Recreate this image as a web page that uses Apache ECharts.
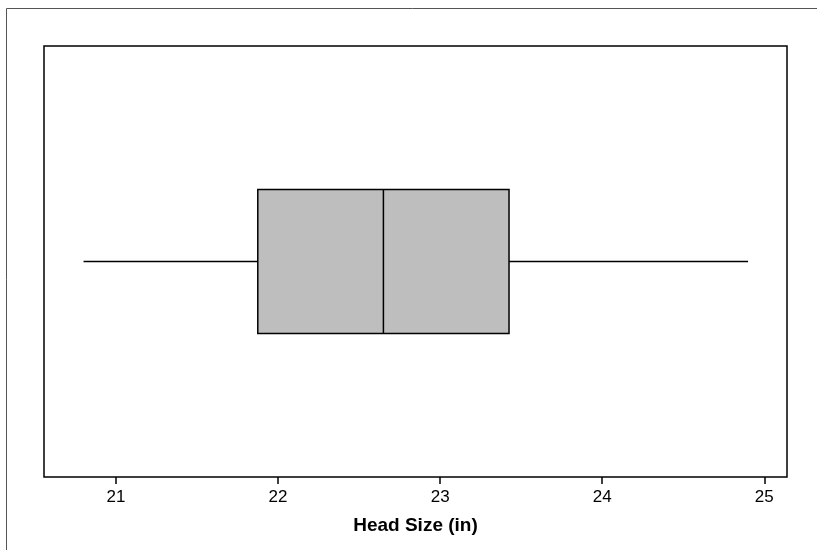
<!DOCTYPE html>
<html>
<head>
<meta charset="utf-8">
<script src="https://cdn.jsdelivr.net/npm/echarts@6/dist/echarts.min.js"></script>
<style>
  html, body { margin: 0; padding: 0; background: #fff; }
  #chart { width: 817px; height: 550px; }
</style>
</head>
<body>
<div id="chart"></div>
<script>
// five-number summary
var categories = ['Head Size'];
var summary = [[20.8, 21.875, 22.65, 23.425, 24.9]];
var tickValues = [21, 22, 23, 24, 25];
var axisTitle = 'Head Size (in)';

var boxData = summary.map(function(s, i) {
  return s.concat([i]);
});

function renderBox(params, api) {
  var cat = api.value(5);
  var pMin = api.coord([api.value(0), cat]);
  var pQ1 = api.coord([api.value(1), cat]);
  var pMed = api.coord([api.value(2), cat]);
  var pQ3 = api.coord([api.value(3), cat]);
  var pMax = api.coord([api.value(4), cat]);
  var h = api.size([0, 1])[1] * 0.334;
  var y = pMed[1];
  var line = { stroke: '#000', lineWidth: 1.5 };
  return {
    type: 'group',
    children: [
      { type: 'line', shape: { x1: pMin[0], y1: y, x2: pQ1[0], y2: y }, style: line },
      { type: 'line', shape: { x1: pQ3[0], y1: y, x2: pMax[0], y2: y }, style: line },
      { type: 'rect', shape: { x: pQ1[0], y: y - h / 2, width: pQ3[0] - pQ1[0], height: h },
        style: { fill: '#bebebe', stroke: '#000', lineWidth: 1.5 } },
      { type: 'line', shape: { x1: pMed[0], y1: y - h / 2, x2: pMed[0], y2: y + h / 2 }, style: line }
    ]
  };
}

var chart = echarts.init(document.getElementById('chart'));
var option = {
  animation: false,
  backgroundColor: '#fff',
  graphic: [{
    type: 'rect',
    shape: { x: 6.5, y: 8.5, width: 1000, height: 1000 },
    style: { fill: 'none', stroke: '#555', lineWidth: 1 },
    silent: true
  }],
  grid: {
    left: 44, right: 30, top: 46, bottom: 73,
    show: true, borderColor: '#000', borderWidth: 1.5
  },
  xAxis: {
    type: 'value',
    min: 20.556,
    max: 25.14,
    name: axisTitle,
    nameLocation: 'middle',
    nameGap: 39,
    nameTextStyle: { fontFamily: 'Liberation Sans, Arial, sans-serif', fontSize: 19, fontWeight: 'bold', color: '#000' },
    axisLine: { lineStyle: { color: '#000', width: 1.5 } },
    axisTick: { show: true, length: 7, lineStyle: { color: '#000', width: 1.5 }, customValues: tickValues },
    axisLabel: { margin: 12, fontFamily: 'Liberation Sans, Arial, sans-serif', fontSize: 17, color: '#000', customValues: tickValues },
    splitLine: { show: false }
  },
  yAxis: {
    type: 'category',
    data: categories,
    axisLine: { show: false },
    axisTick: { show: false },
    axisLabel: { show: false },
    splitLine: { show: false }
  },
  series: [{
    type: 'custom',
    renderItem: renderBox,
    encode: { x: [0, 1, 2, 3, 4], y: 5 },
    data: boxData
  }]
};
chart.setOption(option);
</script>
</body>
</html>
